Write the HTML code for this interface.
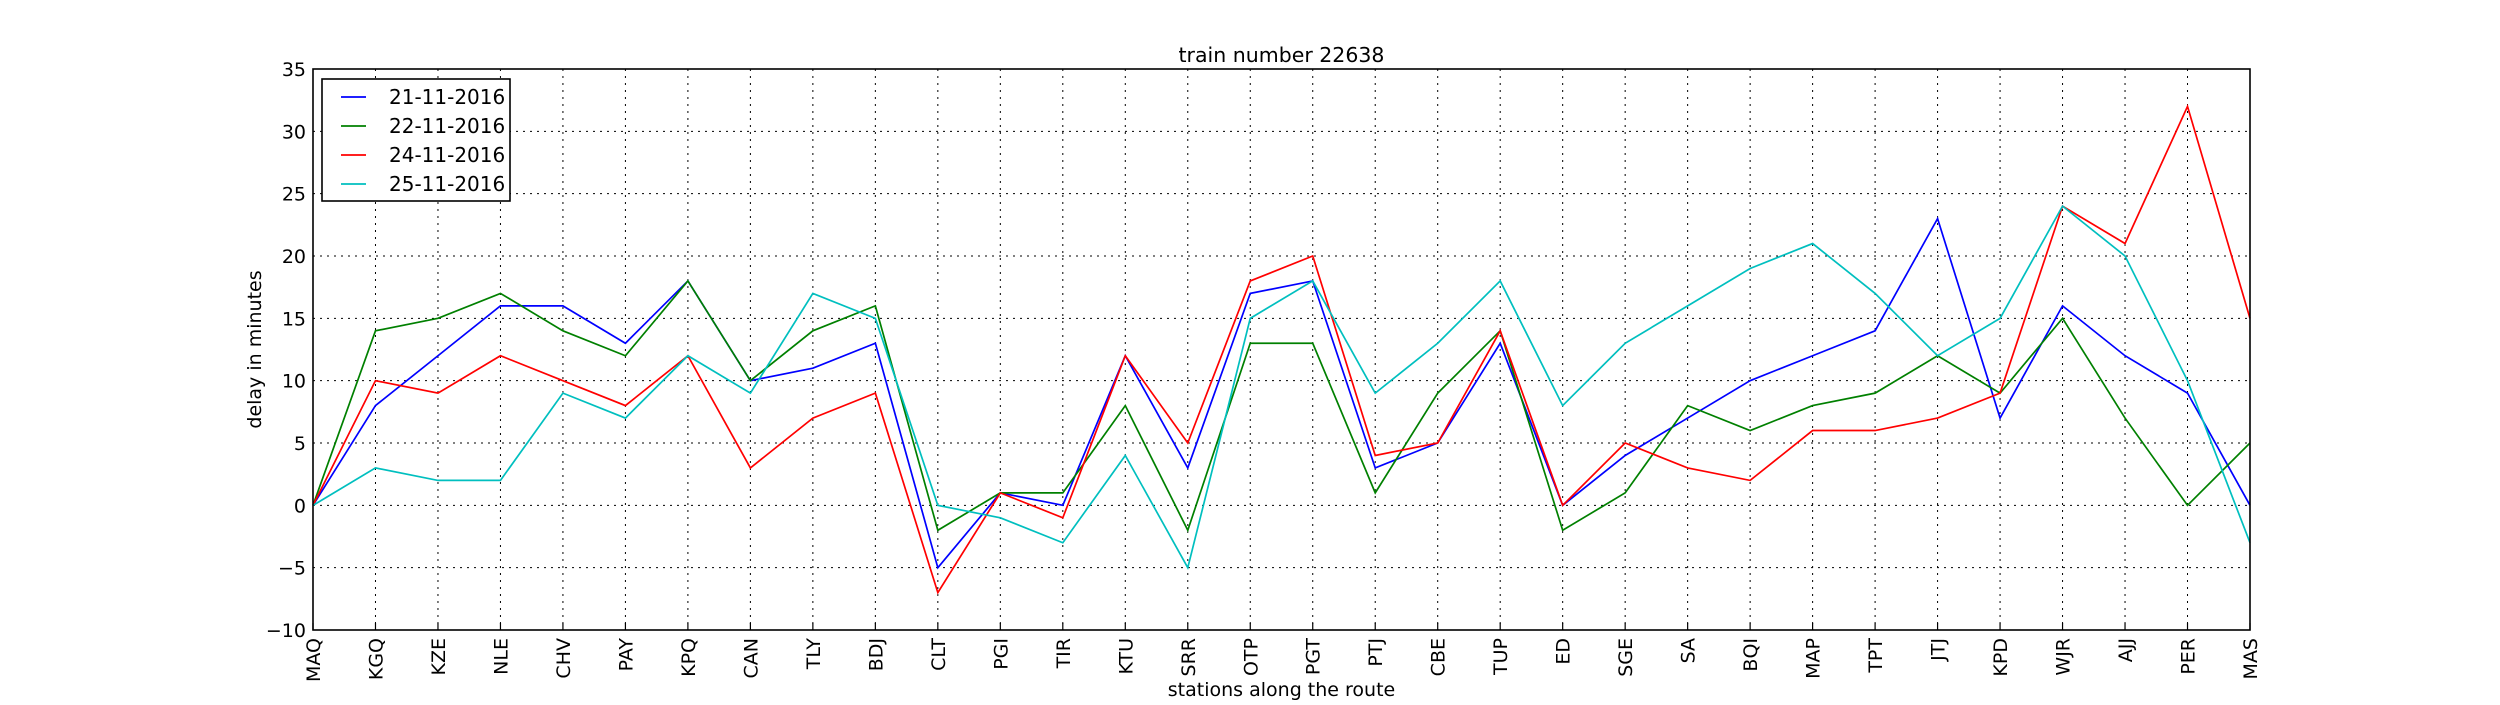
<!DOCTYPE html>
<html><head><meta charset="utf-8"><style>
body{margin:0;background:#fff}
svg text{font-family:"DejaVu Sans","Liberation Sans",sans-serif;fill:#000}
</style></head><body>
<svg id="chart" width="2500" height="700" xmlns="http://www.w3.org/2000/svg">
<rect width="2500" height="700" fill="#fff"/>
<g id="grid"></g><g id="series"></g><g id="axes"></g>
</svg>
<script>
const stations=["MAQ","KGQ","KZE","NLE","CHV","PAY","KPQ","CAN","TLY","BDJ","CLT","PGI","TIR","KTU","SRR","OTP","PGT","PTJ","CBE","TUP","ED","SGE","SA","BQI","MAP","TPT","JTJ","KPD","WJR","AJJ","PER","MAS"];
const s21=[0,8,12,16,16,13,18,10,11,13,-5,1,0,12,3,17,18,3,5,13,0,4,7,10,12,14,23,7,16,12,9,0];
const s22=[0,14,15,17,14,12,18,10,14,16,-2,1,1,8,-2,13,13,1,9,14,-2,1,8,6,8,9,12,9,15,7,0,5];
const s24=[0,10,9,12,10,8,12,3,7,9,-7,1,-1,12,5,18,20,4,5,14,0,5,3,2,6,6,7,9,24,21,32,15];
const s25=[0,3,2,2,9,7,12,9,17,15,0,-1,-3,4,-5,15,18,9,13,18,8,13,16,19,21,17,12,15,24,20,10,-3];
const seriesNames=["21-11-2016","22-11-2016","24-11-2016","25-11-2016"];
const yTicks=[-10,-5,0,5,10,15,20,25,30,35];
const NS="http://www.w3.org/2000/svg";
const L=313,R=2250,T=69,B=630,ymin=-10,ymax=35;
const xs=i=>L+(R-L)*i/(stations.length-1);
const ys=v=>B-(B-T)*(v-ymin)/(ymax-ymin);
function mk(tag,attrs,parent,txt){const e=document.createElementNS(NS,tag);for(const k in attrs)e.setAttribute(k,attrs[k]);if(txt!==undefined)e.textContent=txt;parent.appendChild(e);return e;}
const grid=document.getElementById('grid'),ser=document.getElementById('series'),ax=document.getElementById('axes');
stations.forEach((s,i)=>{
  const g=mk('line',{x1:xs(i),x2:xs(i),y1:T,y2:B,stroke:'#000','stroke-width':1,'stroke-dasharray':'2,5'},grid);
  
  
  const tk=mk('line',{x1:xs(i),x2:xs(i),y1:B,y2:B-7,stroke:'#000','stroke-width':1.2},ax);
  
  
  const t=mk('text',{x:0,y:0,'font-size':19,'text-anchor':'end',transform:`translate(${xs(i)+7},${B+8}) rotate(-90)`},ax,s);
  
  
});
yTicks.forEach(v=>{
  const g=mk('line',{x1:L,x2:R,y1:ys(v),y2:ys(v),stroke:'#000','stroke-width':1,'stroke-dasharray':'2,5'},grid);
  
  
  const t=mk('text',{x:L-7,y:ys(v)+7,'font-size':19,'text-anchor':'end'},ax,String(v).replace('-','\u2212'));
  
  
});
const colors=['#0000ff','#008000','#ff0000','#00bfbf'];
[s21,s22,s24,s25].forEach((arr,k)=>{
  const p=mk('polyline',{points:arr.map((v,i)=>xs(i)+','+ys(v)).join(' '),fill:'none',stroke:colors[k],'stroke-width':1.7},ser);
  
  
});
const fr=mk('rect',{x:L,y:T,width:R-L,height:B-T,fill:'none',stroke:'#000','stroke-width':1.6},ax);


const title=mk('text',{x:(L+R)/2,y:62,'font-size':20.5,'text-anchor':'middle'},ax,'train number 22638');


const xl=mk('text',{x:(L+R)/2,y:696,'font-size':19,'text-anchor':'middle'},ax,'stations along the route');


const yl=mk('text',{x:0,y:0,'font-size':19,'text-anchor':'middle',transform:`translate(261,${(T+B)/2}) rotate(-90)`},ax,'delay in minutes');


const lg=mk('g',{},ax);


mk('rect',{x:322,y:79,width:188,height:122,fill:'#fff',stroke:'#000','stroke-width':1.6},lg);
seriesNames.forEach((n,k)=>{
  const y=97+k*29;
  const ln=mk('line',{x1:341,x2:366,y1:y,y2:y,stroke:colors[k],'stroke-width':1.7},lg);
  
  
  const t=mk('text',{x:389,y:y+7,'font-size':20},lg,n);
  
  
});
</script>
</body></html>
